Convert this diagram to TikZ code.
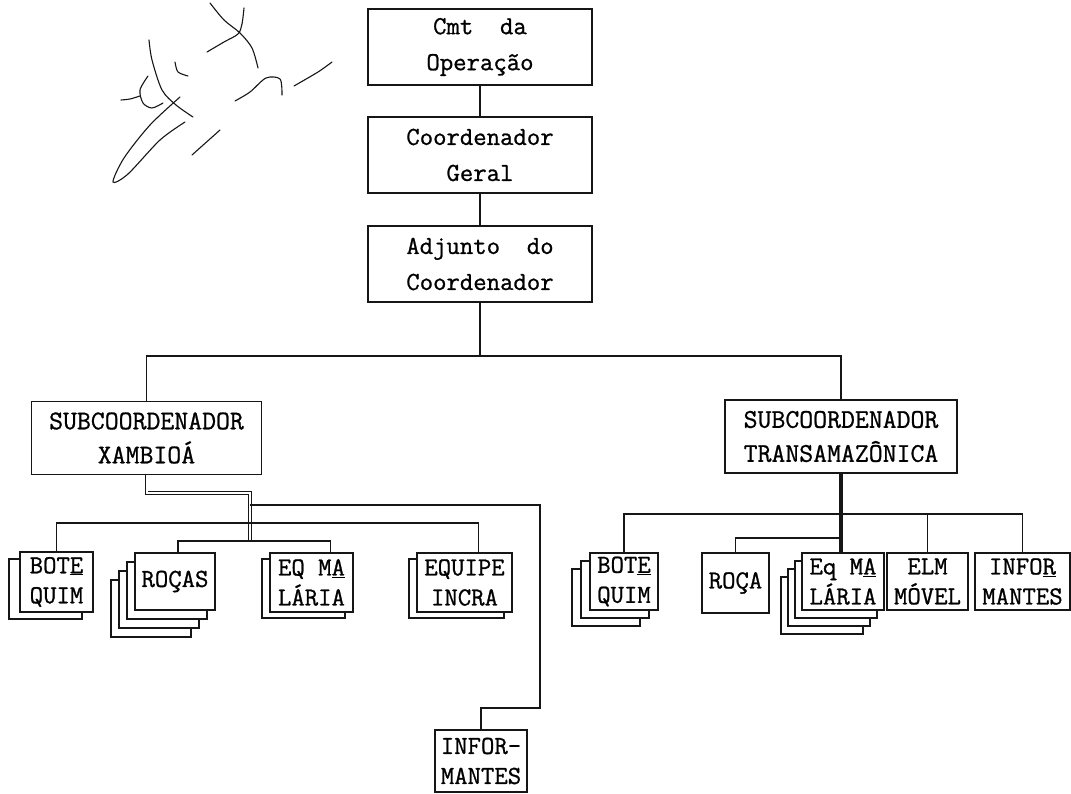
\documentclass[tikz,border=0pt]{standalone}
\usepackage{fontspec}
\usetikzlibrary{positioning}
\newfontfamily\typerfont[FakeBold=0.9]{Latin Modern Mono}
\definecolor{inkline}{RGB}{22,22,22}

\begin{document}
\begin{tikzpicture}[
  x=1pt, y=-1pt,
  font=\typerfont\fontsize{26}{36}\selectfont,
  chief/.style={                            % upper command boxes
    draw=inkline, line width=1.4pt, fill=white,
    rectangle, align=center, inner sep=0pt,
    minimum width=224, minimum height=76
  },
  subc/.style={chief, minimum width=230, minimum height=73,
    font=\typerfont\fontsize{27}{34}\selectfont},
  sheet/.style={                            % small team boxes, stacked
    draw=inkline, line width=1.3pt, fill=white,
    rectangle, align=center, inner sep=0pt,
    font=\typerfont\fontsize{26}{30}\selectfont
  },
  edge/.style={draw=inkline, line width=1.5pt},
  trunk/.style={draw=inkline, line width=0.9pt, double distance=2pt},
  heavy/.style={draw=inkline, line width=3.2pt},
  scribble/.style={draw=inkline, line width=1.1pt, line cap=round},
]
\useasboundingbox (0,0) rectangle (1071,794);

% ---- Hand-written mark ----
\draw[scribble] plot[smooth] coordinates {(210,3) (224,20) (240,33) (252,48) (258,68)};
\draw[scribble] plot[smooth] coordinates {(244,8) (242,24) (238,34) (224,42) (207,52)};
\draw[scribble] plot[smooth] coordinates {(149,40) (152,60) (162,90) (176,105) (193,117)};
\draw[scribble] plot[smooth] coordinates {(175,62) (178,72) (188,76)};
\draw[scribble] plot[smooth] coordinates {(148,76) (140,90) (143,103) (152,108) (163,103)};
\draw[scribble] plot[smooth] coordinates {(121,100) (130,99) (140,96)};
\draw[scribble] plot[smooth] coordinates {(180,97) (150,125) (124,158) (113,182) (128,174) (160,140) (185,122)};
\draw[scribble] plot[smooth] coordinates {(192,155) (220,130)};
\draw[scribble] plot[smooth] coordinates {(235,101) (250,92) (266,78) (280,79) (282,95)};
\draw[scribble] plot[smooth] coordinates {(294,86) (318,72) (332,62)};

% ---- Command chain ----
\node (cmt)   at (480, 47) [chief] {Cmt\ \ da\\Operação};
\node (geral) at (480,155) [chief] {Coordenador\\Geral};
\node (adj)   at (480,264) [chief] {Adjunto\ \ do\\Coordenador};

\node (subX)  at (146.5,438) [subc] {SUBCOORDENADOR\\XAMBIOÁ};
\node (subT)  at (841,436.5) [subc, minimum width=232] {SUBCOORDENADOR\\TRANSAMAZÔNICA};

% ---- Teams under Xambioá (copies behind first) ----
\node (boteL1) at (45.5,589) [sheet, minimum width=73, minimum height=60] {};
\foreach \k in {3,2,1}
  \node (rocaL\k) at (175-8*\k, 581.5+9*\k) [sheet, minimum width=80, minimum height=57] {};
\node (eqmaL1) at (303.5,588.5) [sheet, minimum width=83, minimum height=59] {};
\node (equiL1) at (456.5,588.5) [sheet, minimum width=95, minimum height=59] {};

\node (boteL) at (56.5,582)  [sheet, minimum width=73, minimum height=60] {BOT\underline{E}\\QUIM};
\node (rocaL) at (175,581.5) [sheet, minimum width=80, minimum height=57] {ROÇAS};
\node (eqmaL) at (311.5,582.5) [sheet, minimum width=83, minimum height=59] {EQ M\underline{A}\\LÁRIA};
\node (equiL) at (464.5,582.5) [sheet, minimum width=95, minimum height=59] {EQUIPE\\INCRA};
\node (infL)  at (481,761)   [sheet, minimum width=92, minimum height=62] {INFOR-\\MANTES};

% ---- Teams under Transamazônica ----
\foreach \k in {2,1}
  \node (boteR\k) at (624-9*\k, 581.5+8*\k) [sheet, minimum width=68, minimum height=57] {};
\foreach \k in {3,2,1}
  \node (eqmaR\k) at (843-7*\k, 581.5+8*\k) [sheet, minimum width=82, minimum height=57] {};

\node (boteR) at (624,581.5)   [sheet, minimum width=68, minimum height=57] {BOT\underline{E}\\QUIM};
\node (rocaR) at (735.5,583)   [sheet, minimum width=67, minimum height=60] {ROÇA};
\node (eqmaR) at (843,581.5)   [sheet, minimum width=82, minimum height=57] {Eq M\underline{A}\\LÁRIA};
\node (elm)   at (927.5,581.5) [sheet, minimum width=81, minimum height=57] {ELM\\MÓVEL};
\node (infR)  at (1022.5,581.5) [sheet, minimum width=95, minimum height=57] {INFO\underline{R}\\MANTES};

% ---- Junctions ----
\coordinate (busTop) at (480,356);
\coordinate (kneeX)  at (250,493);
\coordinate (jX1)    at (250,505);
\coordinate (jX2)    at (250,523);
\coordinate (jX3)    at (250,541);
\coordinate (turnX)  at (540,708);
\coordinate (jT1)    at (841,514);
\coordinate (jT2)    at (841,538);

% ---- Edges ----
\foreach \a/\b in {cmt/geral, geral/adj, adj/busTop}
  \draw[edge] (\a) -- (\b);
\draw[edge] (subX.north) |- (busTop) -| (subT.north);

\draw[trunk] (subX.south) |- (kneeX) -- (jX3);
\draw[edge] (jX1) -| (turnX) -| (infL.north);
\draw[edge] (boteL.north) |- (jX2) -| ([xshift=14pt]equiL.north);
\draw[edge] ([xshift=3pt]rocaL.north) |- (jX3) -| ([xshift=19pt]eqmaL.north);

\draw[heavy] (subT.south) -- (subT.south |- eqmaR.north);
\draw[edge] (boteR.north) |- (jT1) -| (infR.north);
\draw[edge] (jT1 -| elm.north) -- (elm.north);
\draw[edge] (rocaR.north) |- (jT2);

\end{tikzpicture}
\end{document}
